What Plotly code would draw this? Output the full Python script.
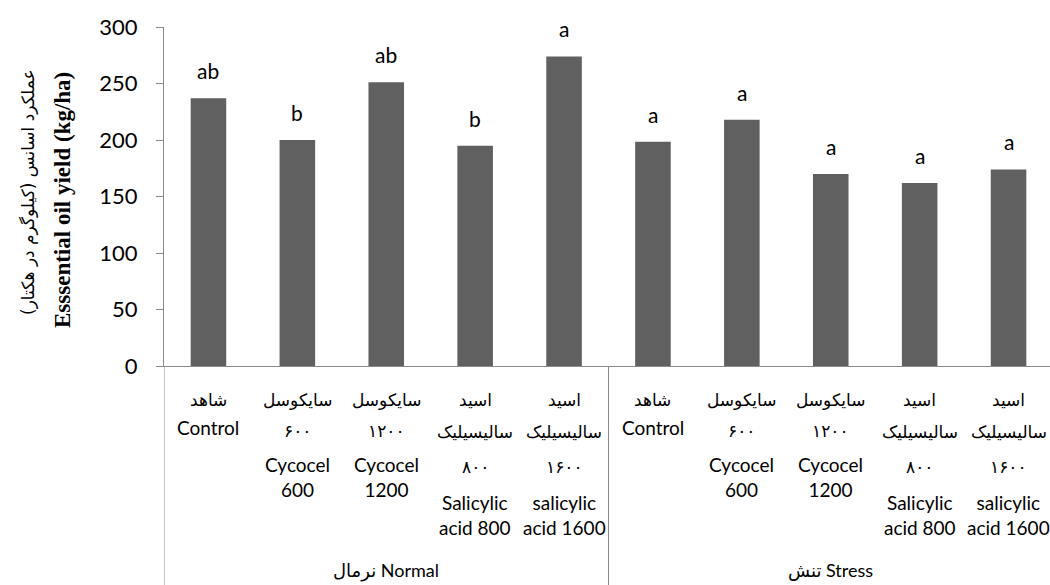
import plotly.graph_objects as go

# ---------------- data ----------------
groups = ["Normal", "Stress"]
group_labels = ["نرمال Normal", "تنش Stress"]
treatments = ["Control", "Cycocel 600", "Cycocel 1200", "Salicylic acid 800", "Salicylic acid 1600"]
treatment_lines = [
    ["شاهد", "Control"],
    ["سایکوسل", "۶۰۰", "Cycocel", "600"],
    ["سایکوسل", "۱۲۰۰", "Cycocel", "1200"],
    ["اسید", "سالیسیلیک", "۸۰۰", "Salicylic", "acid 800"],
    ["اسید", "سالیسیلیک", "۱۶۰۰", "salicylic", "acid 1600"],
]
normal_values = [237, 200, 251, 195, 274]
stress_values = [198.5, 218, 170, 162, 174]
normal_letters = ["ab", "b", "ab", "b", "a"]
stress_letters = ["a", "a", "a", "a", "a"]
y_title_fa = "عملکرد اسانس (کیلوگرم در هکتار)"
y_title_en = "Esssential oil yield (kg/ha)"
y_ticks = [0, 50, 100, 150, 200, 250, 300]

# ---------------- layout constants ----------------
W, H = 1050, 585
ML, MR, MT, MB = 164, 0, 27, 219
PH = H - MT - MB
PW = W - ML - MR
BAR_COLOR = "#606060"
AX_COLOR = "#8a8a8a"
LATIN = "Lato, DejaVu Sans"
FA = "DejaVu Sans"

cats = [g + " " + t for g in groups for t in treatments]
values = normal_values + stress_values
letters = normal_letters + stress_letters

fig = go.Figure()
fig.add_trace(go.Bar(x=cats, y=values, width=0.4, marker=dict(color=BAR_COLOR, line=dict(width=0)),
                     showlegend=False, hoverinfo="skip"))

def py(px):
    """figure pixel (from top) -> paper y"""
    return (H - MB - px) / PH

def pxx(px):
    return (px - ML) / PW

def is_fa(s):
    return any('\u0600' <= ch <= '\u06ff' for ch in s)

ann = []
for c, v, l in zip(cats, values, letters):
    ann.append(dict(x=c, y=v, xref="x", yref="y", text=l, showarrow=False,
                    yanchor="bottom", yshift=13, font=dict(family=LATIN, size=21, color="black")))

# pixel rows of the label lines (Persian lines need more room than Latin ones)
row_px = {
    2: [400, 428],
    4: [400, 431, 467, 487],
    5: [400, 432, 467, 505, 525],
}
for gi, g in enumerate(groups):
    for ti, lines in enumerate(treatment_lines):
        c = cats[gi * len(treatments) + ti]
        rows = row_px[len(lines)]
        # group consecutive Latin lines into one block
        blocks = []
        for line, rp in zip(lines, rows):
            if blocks and not is_fa(line) and not blocks[-1]["fa"]:
                blocks[-1]["lines"].append(line)
                blocks[-1]["rows"].append(rp)
            else:
                blocks.append(dict(fa=is_fa(line), lines=[line], rows=[rp]))
        for b in blocks:
            yc = sum(b["rows"]) / len(b["rows"])
            ann.append(dict(x=c, y=py(yc), xref="x", yref="paper", text="<br>".join(b["lines"]),
                            showarrow=False, yanchor="middle", align="center",
                            font=dict(family=FA if b["fa"] else LATIN, size=17 if b["fa"] else 19,
                                      color="black")))
    ann.append(dict(x=cats[gi * len(treatments) + 2], y=py(570), xref="x", yref="paper",
                    text=group_labels[gi], showarrow=False, yanchor="middle",
                    font=dict(family=LATIN, size=18, color="black")))

ann.append(dict(x=pxx(28), y=py(192), xref="paper", yref="paper", text=y_title_fa, textangle=-90,
                showarrow=False, xanchor="center", yanchor="middle",
                font=dict(family=FA, size=17, color="black")))
ann.append(dict(x=pxx(62), y=py(200), xref="paper", yref="paper",
                text="<b>" + y_title_en + "</b>", textangle=-90,
                showarrow=False, xanchor="center", yanchor="middle",
                font=dict(family="Liberation Serif", size=23, color="black")))

shapes = []
for xb in [-0.5, 4.5]:
    shapes.append(dict(type="line", xref="x", yref="paper", x0=xb, x1=xb, y0=0, y1=py(H),
                       line=dict(color=AX_COLOR, width=1)))

fig.update_layout(
    template="none",
    width=W, height=H, margin=dict(l=ML, r=MR, t=MT, b=MB, autoexpand=False),
    plot_bgcolor="white", paper_bgcolor="white",
    annotations=ann, shapes=shapes,
    xaxis=dict(type="category", categoryorder="array", categoryarray=cats, automargin=False,
               range=[-0.5, -0.5 + PW / 88.9], showticklabels=False, ticks="",
               showline=True, linecolor=AX_COLOR, linewidth=1, showgrid=False, zeroline=False),
    yaxis=dict(range=[0, 300], tickvals=y_ticks, ticks="outside", ticklen=7, tickcolor=AX_COLOR,
               automargin=False,
               showline=True, linecolor=AX_COLOR, linewidth=1, showgrid=False, zeroline=False,
               tickfont=dict(family=LATIN, size=22, color="black"), ticklabelstandoff=14),
)

fig.write_html("out.html", config={"displayModeBar": False},
               post_script="document.body.style.margin='0px';")
